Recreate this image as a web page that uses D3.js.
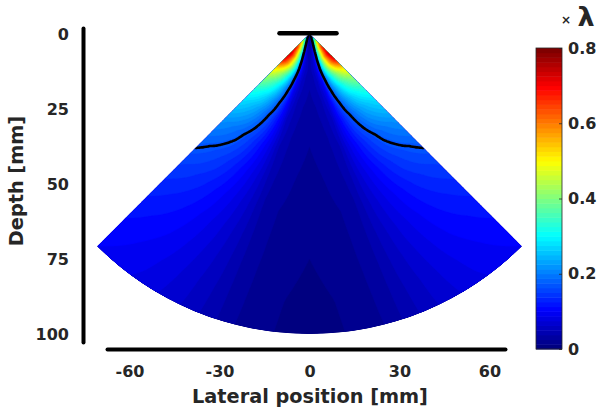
<!DOCTYPE html>
<html><head><meta charset="utf-8">
<script src="https://cdn.jsdelivr.net/npm/d3@7"></script>
<style>
body{margin:0;background:#fff}
svg{display:block}
text{font-family:"DejaVu Sans",sans-serif;font-weight:bold;fill:#262626}
</style>
</head><body><svg id="c" width="600" height="411"></svg>
<script>
// ---- data ----
const thetaDeg = [0, 5, 10, 15, 20, 25, 30, 35, 40, 45];          // |steering angle| (deg), field is mirror-symmetric
const radiusMm = [0.5, 2, 4, 6, 9, 12, 16, 20, 25, 30, 40, 50, 60, 70, 80, 90, 100];
const lambdaValues = [ // rows = radiusMm, cols = thetaDeg, values in units of wavelength
  [0.008,0.012,0.021,0.035,0.062,0.086,0.106,0.123,0.136,0.148],
  [0.020,0.026,0.041,0.071,0.134,0.190,0.237,0.281,0.316,0.348],
  [0.032,0.040,0.061,0.107,0.206,0.294,0.369,0.439,0.496,0.548],
  [0.039,0.048,0.073,0.129,0.249,0.356,0.449,0.534,0.604,0.668],
  [0.045,0.055,0.080,0.142,0.275,0.393,0.496,0.591,0.669,0.740],
  [0.045,0.054,0.077,0.132,0.256,0.366,0.461,0.549,0.621,0.687],
  [0.040,0.047,0.063,0.102,0.196,0.279,0.351,0.417,0.471,0.520],
  [0.036,0.042,0.054,0.084,0.160,0.227,0.285,0.338,0.381,0.420],
  [0.032,0.037,0.046,0.070,0.131,0.185,0.232,0.275,0.309,0.340],
  [0.028,0.033,0.041,0.060,0.112,0.158,0.197,0.233,0.261,0.287],
  [0.024,0.028,0.034,0.048,0.088,0.123,0.153,0.180,0.201,0.220],
  [0.020,0.024,0.029,0.041,0.074,0.102,0.127,0.148,0.165,0.180],
  [0.017,0.021,0.025,0.036,0.064,0.088,0.109,0.127,0.141,0.153],
  [0.014,0.018,0.022,0.033,0.057,0.078,0.096,0.112,0.124,0.134],
  [0.011,0.015,0.020,0.030,0.052,0.071,0.087,0.101,0.111,0.120],
  [0.008,0.012,0.018,0.028,0.048,0.065,0.080,0.092,0.101,0.109],
  [0.006,0.010,0.017,0.026,0.045,0.061,0.074,0.085,0.093,0.100]
];
const contourLevel = 0.17;
const sectorHalfAngle = 45;   // deg
const sectorRadius = 100;     // mm
const aperture = [-10, 9];    // mm, transducer bar
const xTicks = [-60, -30, 0, 30, 60];
const yTicks = [0, 25, 50, 75, 100];
const cbTicks = [0, 0.2, 0.4, 0.6, 0.8];
const cbLabels = ["0", "0.2", "0.4", "0.6", "0.8"];
const cMax = 0.8, nColors = 64;

// ---- helpers ----
function jet(n) {
  n = Math.max(0, Math.min(1, n));
  const c = v => Math.max(0, Math.min(1, v));
  const r = c(Math.min(4*n - 1.5, -4*n + 4.5));
  const g = c(Math.min(4*n - 0.5, -4*n + 3.5));
  const b = c(Math.min(4*n + 0.5, -4*n + 2.5));
  return d3.rgb(r*255, g*255, b*255).formatHex();
}
const bandColor = k => jet(k / (nColors - 1));

const svg = d3.select("#c");
const x = d3.scaleLinear().domain([-67.5, 65.167]).range([107, 505]);
const y = d3.scaleLinear().domain([-2, 102.667]).range([28, 342]);

// sample the read grid onto a fine polar raster (bilinear within the read grid)
function field(th, r) {
  th = Math.abs(th);
  r = Math.max(radiusMm[0], Math.min(radiusMm[radiusMm.length-1], r));
  let i = Math.min(thetaDeg.length - 2, Math.max(0, d3.bisectRight(thetaDeg, th) - 1));
  let j = Math.min(radiusMm.length - 2, Math.max(0, d3.bisectRight(radiusMm, r) - 1));
  const ft = (th - thetaDeg[i]) / (thetaDeg[i+1] - thetaDeg[i]);
  const fr = (r - radiusMm[j]) / (radiusMm[j+1] - radiusMm[j]);
  const v00 = lambdaValues[j][i], v01 = lambdaValues[j][i+1];
  const v10 = lambdaValues[j+1][i], v11 = lambdaValues[j+1][i+1];
  return (v00*(1-ft) + v01*ft)*(1-fr) + (v10*(1-ft) + v11*ft)*fr;
}
const dTh = 0.5, dR = 0.5;
const nTh = Math.round(2*sectorHalfAngle/dTh) + 1;
const nR = Math.round(sectorRadius/dR) + 1;
const grid = new Float64Array(nTh*nR);
for (let j = 0; j < nR; j++) for (let i = 0; i < nTh; i++)
  grid[j*nTh + i] = field(-sectorHalfAngle + i*dTh, j*dR);

function project(cx, cy) {
  const i = Math.max(0, Math.min(nTh-1, cx - 0.5));
  const j = Math.max(0, Math.min(nR-1, cy - 0.5));
  const th = (-sectorHalfAngle + i*dTh) * Math.PI/180;
  const r = j*dR;
  return [x(r*Math.sin(th)), y(r*Math.cos(th))];
}
function ringPath(ring) {
  const pts = [];
  for (let k = 0; k < ring.length; k++) {
    const a = ring[k];
    if (k > 0) {
      const b = ring[k-1];
      const d = Math.hypot(a[0]-b[0], a[1]-b[1]);
      const n = Math.ceil(d / 1);
      for (let s = 1; s < n; s++) {
        const t = s/n;
        pts.push(project(b[0] + (a[0]-b[0])*t, b[1] + (a[1]-b[1])*t));
      }
    }
    pts.push(project(a[0], a[1]));
  }
  return "M" + pts.map(p => p[0].toFixed(2) + "," + p[1].toFixed(2)).join("L") + "Z";
}

// ---- sector clip ----
const apexX = x(0), apexY = y(0);
const Rpx = x(sectorRadius) - x(0);
const arc = d3.arc().innerRadius(0).outerRadius(Rpx)
  .startAngle(Math.PI - sectorHalfAngle*Math.PI/180)
  .endAngle(Math.PI + sectorHalfAngle*Math.PI/180);
svg.append("clipPath").attr("id", "sector")
  .append("path").attr("d", arc()).attr("transform", `translate(${apexX},${apexY})`);

const gField = svg.append("g").attr("clip-path", "url(#sector)");
gField.append("path").attr("d", arc()).attr("transform", `translate(${apexX},${apexY})`)
  .attr("fill", bandColor(0));

const levels = d3.range(nColors).map(k => k * cMax / nColors);
const bands = d3.contours().size([nTh, nR]).thresholds(levels)(Array.from(grid));
bands.forEach((mp, k) => {
  if (!mp.coordinates.length) return;
  const d = mp.coordinates.map(poly => poly.map(ringPath).join("")).join("");
  gField.append("path").attr("d", d).attr("fill", bandColor(k))
    .attr("stroke", bandColor(k)).attr("stroke-width", 0.3);
});

// iso-line
const iso = d3.contours().size([nTh, nR]).contour(Array.from(grid), contourLevel);
const onB = p => p[0] <= 0 || p[0] >= nTh || p[1] <= 0 || p[1] >= nR;
let isoD = "";
iso.coordinates.forEach(poly => poly.forEach(ring => {
  let pen = false;
  for (let k = 1; k < ring.length; k++) {
    const a = ring[k-1], b = ring[k];
    if (onB(a) && onB(b)) { pen = false; continue; }
    const pa = project(a[0], a[1]), pb = project(b[0], b[1]);
    if (!pen) { isoD += "M" + pa[0].toFixed(2) + "," + pa[1].toFixed(2); pen = true; }
    isoD += "L" + pb[0].toFixed(2) + "," + pb[1].toFixed(2);
  }
}));
gField.append("path").attr("d", isoD).attr("fill", "none")
  .attr("stroke", "#000").attr("stroke-width", 2.6).attr("stroke-linejoin", "round");

// transducer bar
svg.append("line").attr("x1", x(aperture[0])).attr("x2", x(aperture[1]))
  .attr("y1", 33.2).attr("y2", 33.2)
  .attr("stroke", "#000").attr("stroke-width", 4.5).attr("stroke-linecap", "round");

// ---- axes ----
const yAxis = svg.append("g").attr("transform", "translate(83,0)")
  .call(d3.axisLeft(y).tickValues(yTicks).tickFormat(d => String(d)).tickSize(0).tickPadding(14));
const xAxis = svg.append("g").attr("transform", "translate(0,349)")
  .call(d3.axisBottom(x).tickValues(xTicks).tickFormat(d => String(d)).tickSize(0).tickPadding(17));
[yAxis, xAxis].forEach(g => {
  g.select(".domain").attr("stroke", "#000").attr("stroke-width", 4).attr("stroke-linecap", "round");
  g.selectAll("text").attr("font-size", 16).attr("font-family", "DejaVu Sans").attr("font-weight", "bold").attr("fill", "#262626");
});

svg.append("text").attr("x", 310).attr("y", 403).attr("text-anchor", "middle")
  .attr("font-size", 19.3).text("Lateral position [mm]");
svg.append("text").attr("transform", "translate(23,181) rotate(-90)").attr("text-anchor", "middle")
  .attr("font-size", 19.3).text("Depth [mm]");

// ---- colorbar ----
const cbX = 536, cbW = 26;
const cy = d3.scaleLinear().domain([0, cMax]).range([349, 48]);
const cb = svg.append("g");
d3.range(nColors).forEach(k => {
  const t0 = k*cMax/nColors, t1 = (k+1)*cMax/nColors;
  cb.append("rect").attr("x", cbX).attr("width", cbW)
    .attr("y", cy(t1)).attr("height", cy(t0) - cy(t1) + 0.5)
    .attr("fill", bandColor(k));
});
cb.append("rect").attr("x", cbX).attr("y", cy(cMax)).attr("width", cbW)
  .attr("height", cy(0) - cy(cMax)).attr("fill", "none").attr("stroke", "#262626").attr("stroke-width", 0.8);
const cbAxis = svg.append("g").attr("transform", `translate(${cbX + cbW},0)`)
  .call(d3.axisRight(cy).tickValues(cbTicks).tickFormat((d, i) => cbLabels[i]).tickSizeInner(-3).tickSizeOuter(0).tickPadding(6));
cbAxis.select(".domain").remove();
cbAxis.selectAll("line").attr("stroke", "#262626").attr("stroke-width", 0.8);
cbAxis.selectAll("text").attr("font-size", 16).attr("font-family", "DejaVu Sans").attr("font-weight", "bold").attr("fill", "#262626");

svg.append("text").attr("x", 566).attr("y", 24).attr("text-anchor", "middle")
  .attr("font-size", 12).attr("font-weight", "normal").attr("fill", "#555").text("×");
svg.append("text").attr("x", 586).attr("y", 26).attr("text-anchor", "middle")
  .attr("font-size", 27).attr("font-weight", "normal").attr("fill", "#000").text("λ");
</script>
</body></html>
